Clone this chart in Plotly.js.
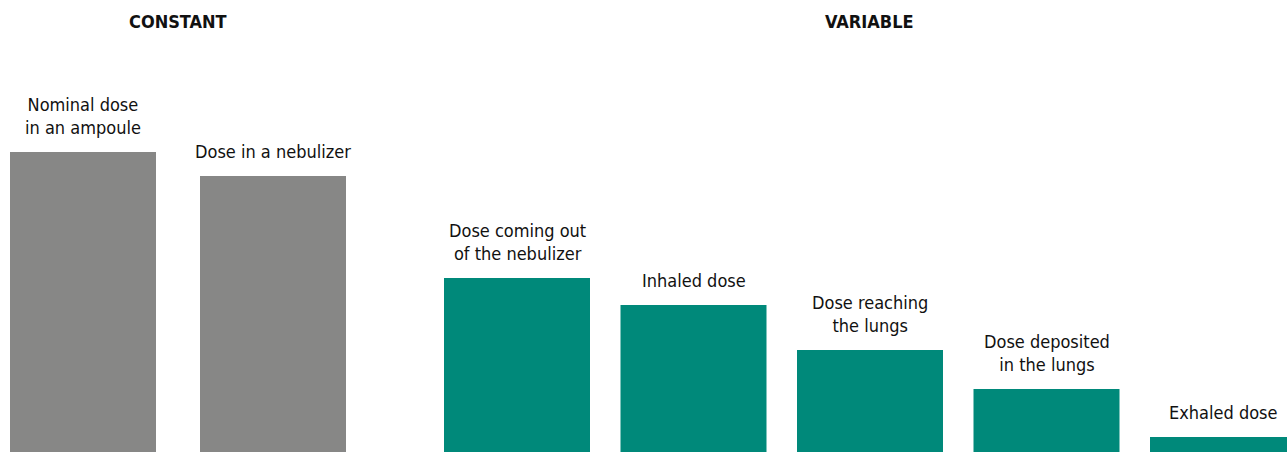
<!DOCTYPE html>
<html>
<head>
<meta charset="utf-8">
<script src="https://cdn.plot.ly/plotly-3.0.1.min.js"></script>
<style>html,body{margin:0;padding:0;background:#fff;}#chart{width:1287px;height:452px;}</style>
</head>
<body>
<div id="chart"></div>
<script>
const constantLabels = ["Nominal dose<br>in an ampoule", "Dose in a nebulizer"];
const constantValues = [100, 92];
const variableLabels = ["Dose coming out<br>of the nebulizer", "Inhaled dose", "Dose reaching<br>the lungs", "Dose deposited<br>in the lungs", "Exhaled dose"];
const variableValues = [58, 49, 34, 21, 5];
const groupTitles = ["CONSTANT", "VARIABLE"];

const FONT = "'DejaVu Sans Condensed', 'Liberation Sans Narrow', sans-serif";
const GRAY = "#878786";
const TEAL = "#00897a";

const cIdx = constantLabels.map((_, i) => i);
const vIdx = variableLabels.map((_, i) => i);

const traces = [
  {type: "bar", x: cIdx, y: constantValues, width: 146/190, marker: {color: GRAY}, xaxis: "x", yaxis: "y", hoverinfo: "none"},
  {type: "bar", x: vIdx, y: variableValues, width: 146/176.5, marker: {color: TEAL}, xaxis: "x2", yaxis: "y", hoverinfo: "none"}
];

const labelFont = {family: FONT, size: 18, color: "#111"};
const annotations = [];
constantLabels.forEach((t, i) => annotations.push({x: i, y: constantValues[i], xref: "x", yref: "y", text: t, showarrow: false, xanchor: "center", yanchor: "bottom", yshift: 12, font: labelFont}));
variableLabels.forEach((t, i) => annotations.push({x: i, y: variableValues[i], xref: "x2", yref: "y", text: t, showarrow: false, xanchor: "center", yanchor: "bottom", yshift: 12, font: labelFont}));
const titleFont = {family: FONT, size: 18, color: "#111"};
annotations.push({x: 178/1287, y: 1 - 22/452, xref: "paper", yref: "paper", text: "<b>" + groupTitles[0] + "</b>", showarrow: false, xanchor: "center", yanchor: "middle", font: titleFont});
annotations.push({x: 869/1287, y: 1 - 22/452, xref: "paper", yref: "paper", text: "<b>" + groupTitles[1] + "</b>", showarrow: false, xanchor: "center", yanchor: "middle", font: titleFont});

const layout = {
  width: 1287, height: 452,
  margin: {l: 0, r: 0, t: 0, b: 0, pad: 0},
  paper_bgcolor: "#fff", plot_bgcolor: "#fff",
  showlegend: false,
  xaxis: {domain: [0, 356/1287], range: [-83/190, 273/190], visible: false, fixedrange: true},
  xaxis2: {domain: [400/1287, 1], range: [-117/176.5, 770/176.5], visible: false, fixedrange: true},
  yaxis: {domain: [0, 1], range: [0, 452/3], visible: false, fixedrange: true},
  annotations: annotations
};

Plotly.newPlot("chart", traces, layout, {staticPlot: true, displayModeBar: false});
</script>
</body>
</html>
